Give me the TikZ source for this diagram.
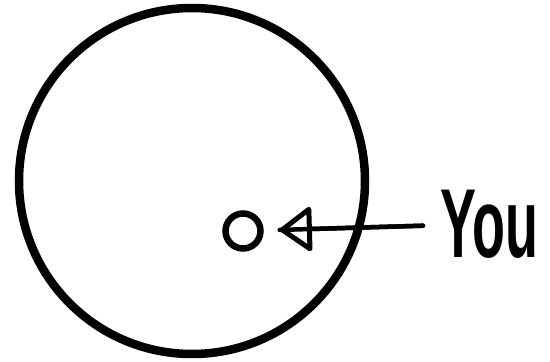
\documentclass[tikz,border=0pt]{standalone}
\usepackage{fontspec}
\usepackage{graphicx}
\setmainfont{Liberation Sans}
\usetikzlibrary{arrows.meta}

\begin{document}
\begin{tikzpicture}[
  x=1pt, y=-1pt,
  ring/.style={draw, circle, inner sep=0pt, line width=8.5pt, minimum size=346pt},
  dotmark/.style={draw, circle, inner sep=0pt, line width=6.5pt, minimum size=35pt},
  lab/.style={inner sep=0pt, font=\fontsize{98}{98}\selectfont\bfseries},
  shaft/.style={line width=4.5pt, line cap=round, shorten <=17pt, shorten >=16pt},
  >={Triangle[open, length=34pt, width=48pt, line width=5pt, round]}
]
\useasboundingbox (0,0) rectangle (550,362);
\node[ring] (world) at (192,181) {};
\node[dotmark] (me) at (243,231) {};
\node[lab, anchor=base west] (you) at (440,257) {\scalebox{0.55}[1]{You}};
\draw[shaft] (you) -- (me);
\draw[shaft, ->] (you) -- (me);
\end{tikzpicture}
\end{document}
